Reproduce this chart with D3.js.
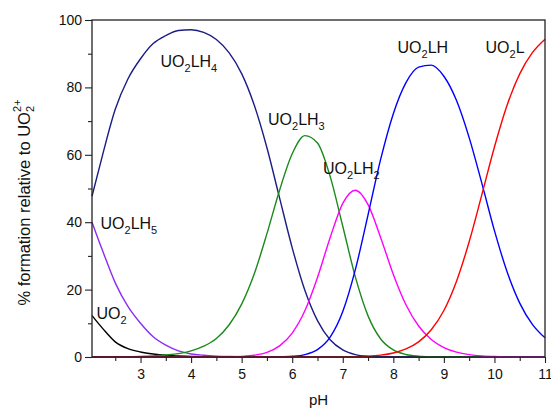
<!DOCTYPE html>
<html>
<head>
<meta charset="utf-8">
<script src="https://cdn.jsdelivr.net/npm/d3@7"></script>
<style>
  body { margin: 0; background: #fff; }
  text { font-family: "Liberation Sans", Arial, sans-serif; fill: #111; }
</style>
</head>
<body>
<svg id="chart" width="551" height="410"></svg>
<script>
// pH grid and % formation
const pH = [2.04, 2.25, 2.5, 2.75, 3, 3.25, 3.5, 3.75, 4, 4.25, 4.5, 4.75, 5, 5.25, 5.5, 5.75, 6, 6.25, 6.5, 6.75,
            7, 7.25, 7.5, 7.75, 8, 8.25, 8.5, 8.75, 9, 9.25, 9.5, 9.75, 10, 10.25, 10.5, 10.75, 11]

const UO2 = [12.3, 8.5, 4.5, 2.5, 1.5, 0.9, 0.5, 0.3, 0.15, 0.08, 0.04, 0.02, 0, 0, 0, 0, 0, 0, 0, 0,
             0, 0, 0, 0, 0, 0, 0, 0, 0, 0, 0, 0, 0, 0, 0, 0, 0]
const UO2LH5 = [40.0, 31.5, 22.0, 15.0, 10.0, 6.0, 3.5, 1.8, 0.9, 0.5, 0.27, 0.15, 0.08, 0.04, 0.02, 0, 0, 0, 0, 0,
                0, 0, 0, 0, 0, 0, 0, 0, 0, 0, 0, 0, 0, 0, 0, 0, 0]
const UO2LH4 = [47.7, 60.0, 73.5, 82.5, 88.5, 93.0, 95.4, 96.9, 97.1, 96.3, 94.2, 90.3, 84.1, 74.7, 62.1, 47.2, 32.4, 19.8, 10.8, 5.1,
                2.1, 0.7, 0.2, 0.05, 0, 0, 0, 0, 0, 0, 0, 0, 0, 0, 0, 0, 0]
const UO2LH3 = [0, 0.02, 0.05, 0.1, 0.15, 0.3, 0.6, 1.0, 1.8, 3.2, 5.5, 9.5, 15.7, 24.7, 36.6, 49.5, 60.3, 65.7, 63.5, 53.6,
                38.8, 23.7, 12.2, 5.35, 2.1, 0.74, 0.25, 0.08, 0.03, 0, 0, 0, 0, 0, 0, 0, 0]
const UO2LH2 = [0, 0, 0, 0, 0, 0, 0, 0, 0, 0, 0.02, 0.06, 0.18, 0.52, 1.36, 3.3, 7.1, 13.7, 23.6, 35.4,
                45.6, 49.5, 45.2, 35.4, 24.5, 15.5, 9.2, 5.2, 2.8, 1.45, 0.7, 0.31, 0.13, 0.05, 0.02, 0.01, 0]
const UO2LH = [0, 0, 0, 0, 0, 0, 0, 0, 0, 0, 0, 0, 0, 0, 0.01, 0.05, 0.21, 0.72, 2.2, 5.9,
               13.5, 26.0, 42.2, 58.7, 72.2, 81.4, 86.0, 86.6, 83.3, 76.1, 65.1, 51.6, 37.5, 25.3, 16.0, 9.7, 5.7]
const UO2L = [0, 0, 0, 0, 0, 0, 0, 0, 0, 0, 0, 0, 0, 0, 0, 0, 0, 0, 0, 0.01,
              0.02, 0.08, 0.22, 0.55, 1.2, 2.4, 4.5, 8.1, 13.8, 22.5, 34.2, 48.1, 62.3, 74.7, 84.0, 90.3, 94.3]

const xTicks = [3, 4, 5, 6, 7, 8, 9, 10, 11]
const yTicks = [0, 20, 40, 60, 80, 100]

const series = [
  { name: 'UO2', values: UO2, color: '#000000' },
  { name: 'UO2LH5', values: UO2LH5, color: '#8b2cf5' },
  { name: 'UO2LH4', values: UO2LH4, color: '#1c1c86' },
  { name: 'UO2LH3', values: UO2LH3, color: '#1a8a1a' },
  { name: 'UO2LH2', values: UO2LH2, color: '#ff00ff' },
  { name: 'UO2LH', values: UO2LH, color: '#0000ff' },
  { name: 'UO2L', values: UO2L, color: '#ff0000' }
]

// species labels: part after "UO2", its subscript, and where the label sits
const labels = [
  { sub: 'LH', n: '4', x: 160.5, y: 66.5 },
  { sub: 'LH', n: '5', x: 100.5, y: 229 },
  { sub: '', n: '', x: 96.5, y: 319 },
  { sub: 'LH', n: '3', x: 268, y: 125 },
  { sub: 'LH', n: '2', x: 323, y: 173.5 },
  { sub: 'LH', n: '', x: 397.5, y: 53 },
  { sub: 'L', n: '', x: 485.5, y: 53 }
]

var margin = {top: 20, right: 6, bottom: 53, left: 92}
var width = 551 - margin.left - margin.right
var height = 410 - margin.top - margin.bottom

var x = d3.scaleLinear().domain([2.04, 11]).range([0, width])
var y = d3.scaleLinear().domain([0, 100]).range([height, 0])

var svg = d3.select('#chart')
  .append('g')
  .attr('transform', 'translate(' + margin.left + ',' + margin.top + ')')

var line = d3.line()
  .x(function (d) { return x(d[0]) })
  .y(function (d) { return y(d[1]) })
  .curve(d3.curveMonotoneX)

series.forEach(function (s) {
  svg.append('path')
    .datum(pH.map(function (p, i) { return [p, s.values[i]] }))
    .attr('fill', 'none')
    .attr('stroke', s.color)
    .attr('stroke-width', 1.4)
    .attr('d', line)
})

// minor ticks
svg.append('g')
  .attr('transform', 'translate(0,' + height + ')')
  .call(d3.axisBottom(x).tickValues(xTicks.map(function (t) { return t - 0.5 })).tickSize(4).tickFormat(''))
svg.append('g')
  .call(d3.axisLeft(y).tickValues(yTicks.slice(1).map(function (t) { return t - 10 })).tickSize(4).tickFormat(''))

var xAxis = svg.append('g')
  .attr('transform', 'translate(0,' + height + ')')
  .call(d3.axisBottom(x).tickValues(xTicks).tickSizeInner(6).tickSizeOuter(0).tickPadding(6))
var yAxis = svg.append('g')
  .call(d3.axisLeft(y).tickValues(yTicks).tickSizeInner(7).tickSizeOuter(0).tickPadding(3))

svg.selectAll('.domain').remove()
svg.selectAll('.tick line').attr('stroke', '#222').attr('stroke-width', 1.1)
svg.selectAll('.tick text').style('font-size', '14px').style('font-family', '"Liberation Sans", Arial, sans-serif').attr('fill', '#111')

svg.append('rect')
  .attr('width', width)
  .attr('height', height)
  .attr('fill', 'none')
  .attr('stroke', '#222')
  .attr('stroke-width', 1.3)

// axis titles
svg.append('text')
  .attr('x', width / 2)
  .attr('y', height + 48)
  .attr('text-anchor', 'middle')
  .style('font-size', '15px')
  .text('pH')

var yt = svg.append('text')
  .attr('transform', 'translate(' + (-62) + ',' + (height / 2 + 14) + ') rotate(-90)')
  .attr('text-anchor', 'middle')
  .style('font-size', '16.5px')
yt.append('tspan').text('% formation relative to UO')
yt.append('tspan').attr('dy', 4).style('font-size', '11px').text('2')
yt.append('tspan').attr('dx', -6).attr('dy', -13).style('font-size', '11px').text('2+')

// species labels
labels.forEach(function (l) {
  var t = svg.append('text')
    .attr('x', l.x - margin.left)
    .attr('y', l.y - margin.top)
    .style('font-size', '16px')
  t.append('tspan').text('UO')
  t.append('tspan').attr('dy', 5).style('font-size', '11px').text('2')
  if (l.sub) {
    t.append('tspan').attr('dy', -5).text(l.sub)
    if (l.n) t.append('tspan').attr('dy', 5).style('font-size', '11px').text(l.n)
  }
})
</script>
</body>
</html>
